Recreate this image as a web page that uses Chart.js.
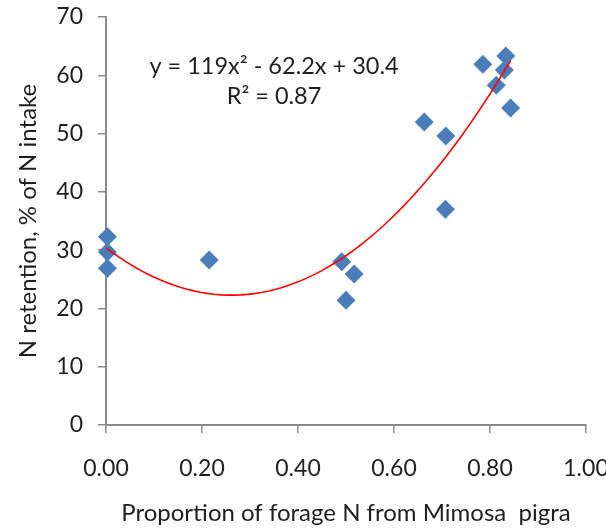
<!DOCTYPE html>
<html>
<head>
<meta charset="utf-8">
<script src="https://cdn.jsdelivr.net/npm/chart.js@4.4.1/dist/chart.umd.min.js"></script>
<style>
  html, body { margin: 0; padding: 0; background: #ffffff; overflow: hidden; }
  #wrap { width: 606px; height: 528px; }
</style>
</head>
<body>
<div id="wrap"><canvas id="chart" width="606" height="528"></canvas></div>
<script>
// Proportion of forage N supplied by Mimosa pigra (x) and N retention (y)
const propMimosa = [0.003, 0.003, 0.003, 0.215, 0.491, 0.517, 0.500, 0.663, 0.708, 0.707, 0.843, 0.785, 0.833, 0.830, 0.813];
const nRetention = [32.3, 29.7, 26.9, 28.3, 28.0, 25.9, 21.4, 52.0, 49.6, 37.0, 54.4, 61.9, 63.3, 60.9, 58.3];

// Quadratic trend: y = a*x^2 + b*x + c
const trendCoef = [119, -62.2, 30.4];
const trendLabel = ['y = 119x\u00B2 - 62.2x + 30.4', 'R\u00B2 = 0.87'];

// Axis ticks
const xTickValues = [0, 0.2, 0.4, 0.6, 0.8, 1.0];
const yTickValues = [0, 10, 20, 30, 40, 50, 60, 70];

const axisTitleX = 'Proportion of forage N from Mimosa  pigra';
const axisTitleY = 'N retention, % of N intake';

const FONT = 'Lato, "Noto Sans", sans-serif';
const TEXT = '#1f1f1f';
const AXIS = '#8a8a8a';

const points = propMimosa.map((x, i) => ({ x, y: nRetention[i] }));

// sample the fitted curve across the range of the data
const xMax = Math.max(...propMimosa);
const trendPts = [];
for (let i = 0; i <= 60; i++) {
  const x = xMax * i / 60;
  trendPts.push({ x, y: trendCoef[0] * x * x + trendCoef[1] * x + trendCoef[2] });
}

const equationPlugin = {
  id: 'equationText',
  afterDatasetsDraw(chart) {
    const { ctx, scales } = chart;
    const cx = scales.x.getPixelForValue(0.35);
    ctx.save();
    ctx.font = '23.5px ' + FONT;
    ctx.fillStyle = TEXT;
    ctx.textAlign = 'center';
    ctx.textBaseline = 'middle';
    ctx.fillText(trendLabel[0], cx, scales.y.getPixelForValue(61.6));
    ctx.fillText(trendLabel[1], cx, scales.y.getPixelForValue(56.3));
    ctx.restore();
  }
};

new Chart(document.getElementById('chart'), {
  type: 'scatter',
  data: {
    datasets: [
      {
        type: 'line',
        label: 'Poly. trend',
        data: trendPts,
        borderColor: '#ff0000',
        borderWidth: 1.6,
        pointRadius: 0,
        tension: 0,
        fill: false,
        order: 0
      },
      {
        label: 'N retention',
        data: points,
        pointStyle: 'rectRot',
        pointRadius: 9.5,
        pointHoverRadius: 9.5,
        backgroundColor: '#4a7ebb',
        borderColor: '#4a7ebb',
        borderWidth: 0,
        clip: false,
        order: 1
      }
    ]
  },
  options: {
    responsive: false,
    animation: false,
    events: [],
    layout: { padding: { top: 17, right: 20, left: 0, bottom: 0 } },
    plugins: {
      legend: { display: false },
      tooltip: { enabled: false }
    },
    scales: {
      x: {
        type: 'linear',
        min: 0,
        max: 1,
        afterFit(scale) {
          scale.height = 103;
          scale.paddingLeft = 0;
          scale.paddingRight = 0;
        },
        afterBuildTicks(scale) { scale.ticks = xTickValues.map(v => ({ value: v })); },
        grid: { display: true, drawOnChartArea: false, drawTicks: true, tickLength: 8, color: AXIS, lineWidth: 1.5 },
        border: { display: true, color: AXIS, width: 2 },
        ticks: {
          padding: 22,
          color: TEXT,
          font: { family: FONT, size: 23 },
          maxRotation: 0,
          callback: v => Number(v).toFixed(2)
        },
        title: {
          display: true,
          text: axisTitleX,
          color: TEXT,
          font: { family: FONT, size: 24 },
          padding: { top: 0, bottom: 0 }
        }
      },
      y: {
        type: 'linear',
        min: 0,
        max: 70,
        afterFit(scale) {
          scale.width = 106;
          scale.paddingTop = 0;
          scale.paddingBottom = 0;
        },
        afterBuildTicks(scale) { scale.ticks = yTickValues.map(v => ({ value: v })); },
        grid: { display: true, drawOnChartArea: false, drawTicks: true, tickLength: 8, color: AXIS, lineWidth: 1.5 },
        border: { display: true, color: AXIS, width: 2 },
        ticks: {
          padding: 15,
          color: TEXT,
          font: { family: FONT, size: 23 }
        },
        title: {
          display: true,
          text: axisTitleY,
          color: TEXT,
          font: { family: FONT, size: 24 },
          padding: { top: 14, bottom: 0 }
        }
      }
    }
  },
  plugins: [equationPlugin]
});
</script>
</body>
</html>
